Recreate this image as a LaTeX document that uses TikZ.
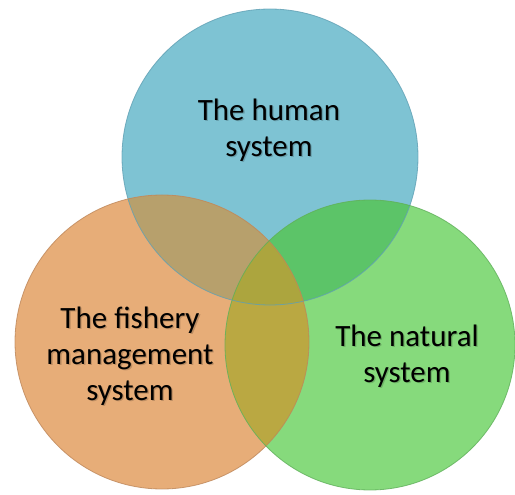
\documentclass[tikz,border=0pt]{standalone}
\usepackage{fontspec}
\setmainfont{Carlito}
\definecolor{humanfill}{RGB}{126,195,211}
\definecolor{fisheryfill}{RGB}{231,173,120}
\definecolor{naturefill}{RGB}{134,218,124}
\definecolor{humanfishery}{RGB}{183,160,108}
\definecolor{humannature}{RGB}{92,196,104}
\definecolor{fisherynature}{RGB}{186,168,66}
\definecolor{allthree}{RGB}{172,165,62}
\definecolor{humanedge}{RGB}{96,160,180}
\definecolor{fisheryedge}{RGB}{190,135,90}
\definecolor{natureedge}{RGB}{95,175,90}
\tikzset{
  systemlabel/.style={align=center, inner sep=0pt, font=\fontsize{31}{36}\selectfont, text=black},
  labelshadow/.style={systemlabel, text=black, text opacity=0.18},
  rim/.style={line width=0.8pt, draw opacity=0.8},
}
\begin{document}
\begin{tikzpicture}[x=1pt, y=-1pt]
\useasboundingbox (0,0) rectangle (515,495);
% circle centres and radius
\coordinate (H) at (270,157);
\coordinate (F) at (162,342);
\coordinate (N) at (370,345);
\def\rH{148}
\def\rF{147}
\def\rN{145}
% base discs
\fill[humanfill] (H) circle[radius=\rH];
\fill[fisheryfill] (F) circle[radius=\rF];
\fill[naturefill] (N) circle[radius=\rN];
% pairwise overlaps
\begin{scope}
  \clip (H) circle[radius=\rH];
  \fill[humanfishery] (F) circle[radius=\rF];
  \fill[humannature] (N) circle[radius=\rN];
\end{scope}
\begin{scope}
  \clip (F) circle[radius=\rF];
  \fill[fisherynature] (N) circle[radius=\rN];
\end{scope}
% central overlap
\begin{scope}
  \clip (H) circle[radius=\rH];
  \clip (F) circle[radius=\rF];
  \fill[allthree] (N) circle[radius=\rN];
\end{scope}
% rims
\draw[rim, humanedge] (H) circle[radius=\rH];
\draw[rim, fisheryedge] (F) circle[radius=\rF];
\draw[rim, natureedge] (N) circle[radius=\rN];
% soft text shadows
\node[labelshadow] (humanS) at (270.3,131.5) {The human\\system};
\node[labelshadow] (fisheryS) at (131.3,357.5) {The fishery\\management\\system};
\node[labelshadow] (natureS) at (408.3,357.5) {The natural\\system};
% labels
\node[systemlabel] (human) at (269,130) {The human\\system};
\node[systemlabel] (fishery) at (130,356) {The fishery\\management\\system};
\node[systemlabel] (nature) at (407,356) {The natural\\system};
\end{tikzpicture}
\end{document}
